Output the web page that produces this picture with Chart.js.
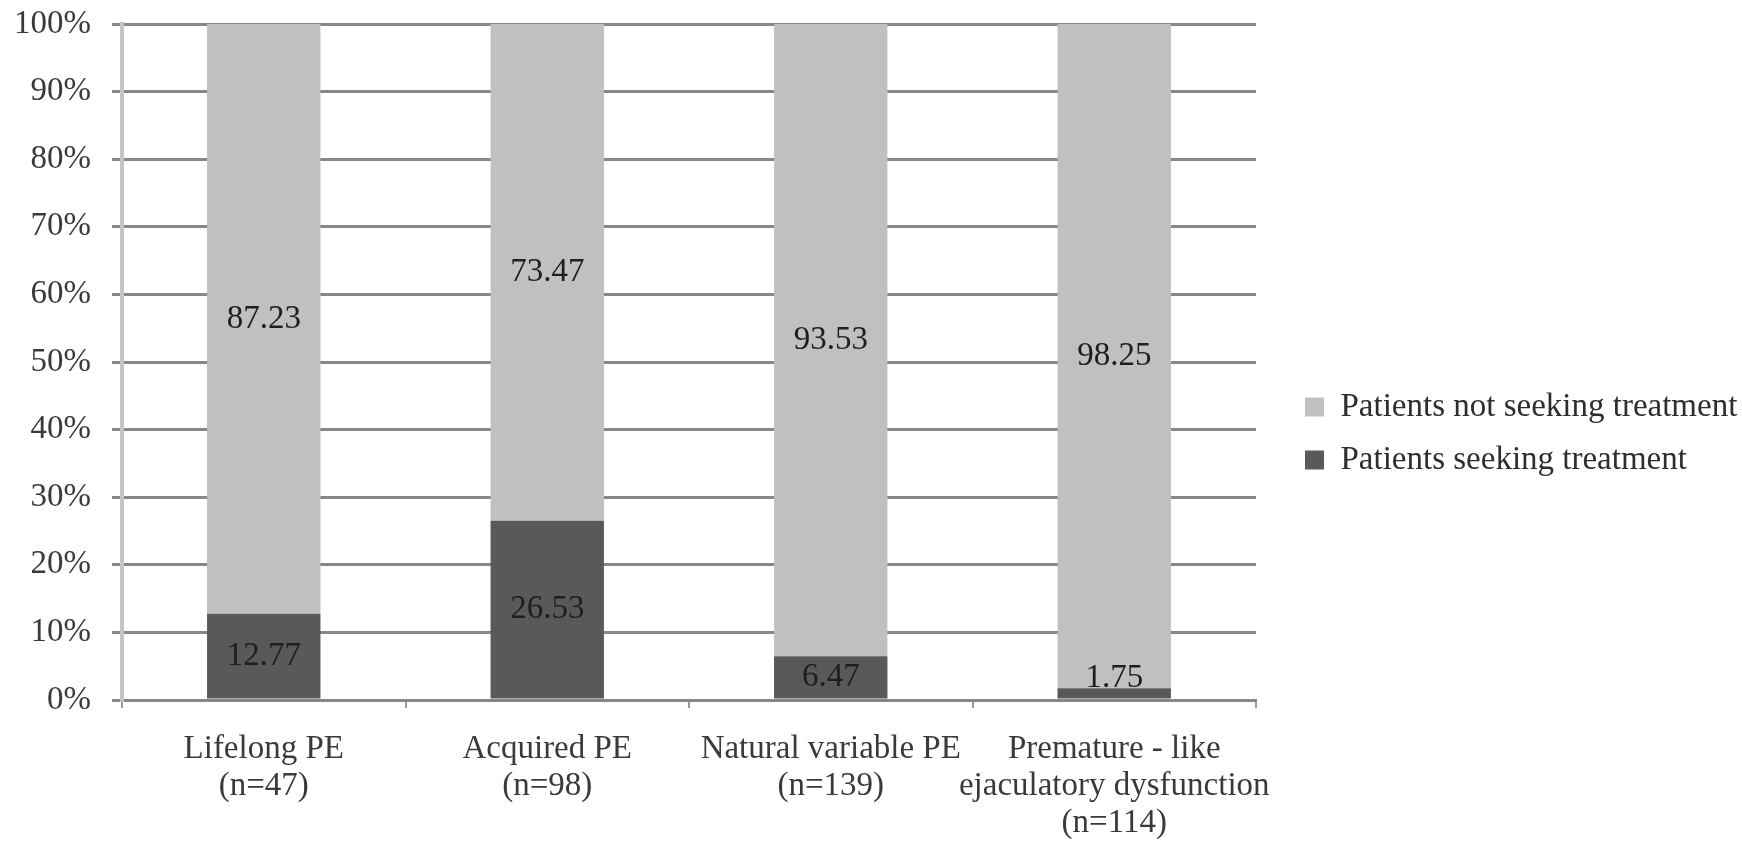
<!DOCTYPE html>
<html>
<head>
<meta charset="utf-8">
<title>PE patients seeking treatment</title>
<script src="https://cdn.jsdelivr.net/npm/chart.js@4.4.1/dist/chart.umd.min.js"></script>
<style>
  html, body { margin: 0; padding: 0; background: #fff; }
  #wrap { width: 1742px; height: 844px; }
</style>
</head>
<body>
<div id="wrap"><canvas id="chart" width="1742" height="844"></canvas></div>
<script>
// data
const categories = [
  ['Lifelong PE', '(n=47)'],
  ['Acquired PE', '(n=98)'],
  ['Natural variable PE', '(n=139)'],
  ['Premature - like', 'ejaculatory dysfunction', '(n=114)']
];
const seeking = [12.77, 26.53, 6.47, 1.75];
const notSeeking = [87.23, 73.47, 93.53, 98.25];
const seriesNames = ['Patients seeking treatment', 'Patients not seeking treatment'];
const yTickStep = 10;
const yMax = 100;

const SERIF = "'Liberation Serif', 'Times New Roman', serif";
Chart.defaults.font.family = SERIF;
Chart.defaults.color = '#3a3a3a';

// writes the value in the middle of each bar segment
const barValues = {
  id: 'barValues',
  afterDatasetsDraw(chart) {
    const ctx = chart.ctx;
    ctx.save();
    ctx.font = '33px ' + SERIF;
    ctx.fillStyle = '#1e1e1e';
    ctx.textAlign = 'center';
    ctx.textBaseline = 'middle';
    chart.data.datasets.forEach((ds, i) => {
      const meta = chart.getDatasetMeta(i);
      meta.data.forEach((bar, j) => {
        let y = (bar.y + bar.base) / 2;
        y = Math.min(y, bar.base - 20);
        ctx.fillText(ds.data[j].toFixed(2), bar.x, y);
      });
    });
    ctx.restore();
  }
};

// legend sits to the right of the plot, a bit away from it
const legendPlace = {
  id: 'legendPlace',
  beforeInit(chart) {
    const fit = chart.legend.fit;
    chart.legend.fit = function () {
      fit.call(this);
      this.width = 486;
    };
  },
  afterLayout(chart) {
    const lg = chart.legend;
    lg.left = chart.chartArea.right + 29;
    lg.top = chart.chartArea.top + 346.5;
  }
};

new Chart(document.getElementById('chart'), {
  type: 'bar',
  data: {
    labels: categories,
    datasets: [
      {
        label: seriesNames[0],
        data: seeking,
        backgroundColor: '#595959',
        borderWidth: 0
      },
      {
        label: seriesNames[1],
        data: notSeeking,
        backgroundColor: '#c0c0c0',
        borderWidth: 0
      }
    ]
  },
  options: {
    responsive: false,
    animation: false,
    devicePixelRatio: 1,
    layout: { padding: { top: 24, left: 0, right: 0, bottom: 0 } },
    datasets: {
      bar: { barPercentage: 0.4, categoryPercentage: 1.0 }
    },
    plugins: {
      tooltip: { enabled: false },
      legend: {
        position: 'right',
        align: 'start',
        reverse: true,
        labels: {
          boxWidth: 19,
          boxHeight: 19,
          padding: 20,
          color: '#2e2e2e',
          font: { size: 33, family: SERIF }
        }
      }
    },
    scales: {
      x: {
        stacked: true,
        grid: {
          display: true,
          drawOnChartArea: false,
          drawTicks: true,
          tickLength: 8,
          color: '#9a9a9a',
          lineWidth: 2,
          offset: true
        },
        border: { display: true, color: '#878787', width: 3 },
        ticks: {
          padding: 23,
          color: '#3a3a3a',
          maxRotation: 0,
          autoSkip: false,
          font: { size: 33, family: SERIF, lineHeight: 1.12 }
        },
        afterFit(scale) { scale.height = 144; }
      },
      y: {
        stacked: true,
        min: 0,
        max: yMax,
        grid: {
          color: '#878787',
          lineWidth: 3,
          drawTicks: true,
          tickLength: 10
        },
        border: { display: true, color: '#c4c4c4', width: 4 },
        ticks: {
          stepSize: yTickStep,
          padding: 21,
          color: '#3a3a3a',
          font: { size: 33, family: SERIF },
          callback: v => v + '%'
        },
        afterFit(scale) {
          scale.width = 122;
          scale.paddingTop = 0;
          scale.paddingBottom = 0;
        }
      }
    }
  },
  plugins: [barValues, legendPlace]
});
</script>
</body>
</html>
